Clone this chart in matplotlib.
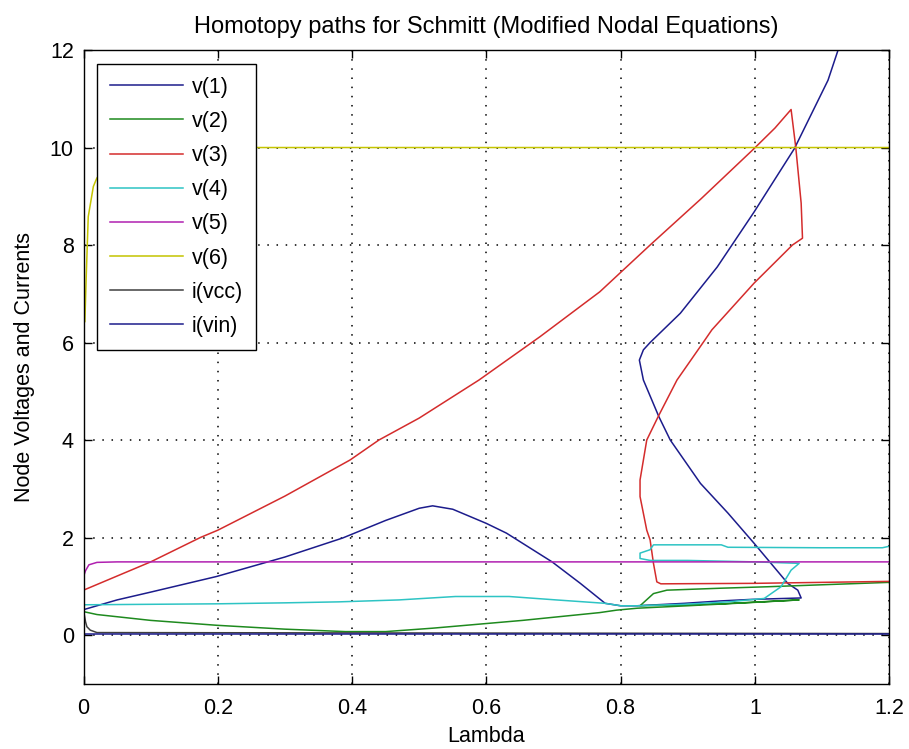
import matplotlib
matplotlib.use("Agg")
import matplotlib.pyplot as plt

plt.rcParams.update({
    "font.family": ["Liberation Sans", "DejaVu Sans"],
    "font.size": 15.5,
})

# homotopy paths (lambda, value); each path folds back
# near lambda ~ 1.07 and turns again near lambda ~ 0.83
v1_lam = [0, 0.05, 0.1, 0.198, 0.3, 0.386, 0.45, 0.5, 0.52, 0.55, 0.6, 0.63,
          0.698, 0.74, 0.777, 0.8, 0.825, 0.895, 0.95, 0.994, 1.069,
          1.064, 1.049, 0.999, 0.96, 0.919, 0.874, 0.857, 0.834, 0.828, 0.834,
          0.844, 0.889, 0.944, 0.999, 1.059, 1.109, 1.124, 1.14]
v1_val = [0.52, 0.72, 0.88, 1.2, 1.6, 1.99, 2.35, 2.6, 2.65, 2.58, 2.29, 2.09,
          1.5, 1.06, 0.65, 0.6, 0.6, 0.65, 0.7, 0.73, 0.76,
          0.92, 1.06, 1.88, 2.5, 3.11, 4.0, 4.48, 5.23, 5.64, 5.85,
          6.0, 6.6, 7.55, 8.68, 9.98, 11.38, 12.0, 12.5]

v2_lam = [0, 0.02, 0.1, 0.198, 0.3, 0.39, 0.45, 0.52, 0.654, 0.769, 0.794,
          0.825, 0.9, 1.0, 1.066, 0.95, 0.829, 0.849, 0.869, 0.949, 1.019,
          1.099, 1.2]
v2_val = [0.48, 0.42, 0.3, 0.2, 0.12, 0.07, 0.07, 0.14, 0.3, 0.46, 0.51,
          0.55, 0.6, 0.67, 0.72, 0.64, 0.6, 0.85, 0.92, 0.96, 0.99,
          1.03, 1.08]

v3_lam = [0, 0.1, 0.174, 0.2, 0.3, 0.397, 0.44, 0.5, 0.589, 0.68, 0.769,
          0.844, 0.92, 0.999, 1.03, 1.054, 1.056, 1.061, 1.069, 1.071,
          1.056, 0.999, 0.936, 0.924, 0.884, 0.856, 0.839, 0.829, 0.829,
          0.839, 0.844, 0.849, 0.854, 0.86, 1.0, 1.1, 1.2]
v3_val = [0.92, 1.5, 2.0, 2.15, 2.85, 3.59, 4.0, 4.45, 5.23, 6.12, 7.04,
          8.0, 8.95, 9.98, 10.4, 10.78, 10.56, 10.0, 8.86, 8.14,
          8.0, 7.22, 6.26, 6.02, 5.23, 4.48, 4.0, 3.18, 2.84,
          2.15, 1.95, 1.47, 1.09, 1.05, 1.06, 1.08, 1.1]

v4_lam = [0, 0.1, 0.2, 0.3, 0.38, 0.47, 0.554, 0.634, 0.704, 0.777, 0.8,
          0.825, 0.895, 0.96, 1.014, 1.039, 1.054, 1.066, 1.0, 0.9, 0.844,
          0.829, 0.829, 0.844, 0.849, 0.95, 0.96, 1.1, 1.19, 1.2]
v4_val = [0.62, 0.63, 0.64, 0.66, 0.68, 0.72, 0.79, 0.79, 0.72, 0.65, 0.6,
          0.6, 0.63, 0.68, 0.75, 0.99, 1.33, 1.47, 1.5, 1.53, 1.53,
          1.57, 1.68, 1.75, 1.85, 1.85, 1.8, 1.79, 1.79, 1.82]

v5_lam = [0, 0.003, 0.008, 0.02, 0.05, 1.2]
v5_val = [1.2, 1.32, 1.44, 1.49, 1.5, 1.5]

v6_lam = [0.002, 0.004, 0.007, 0.0146, 0.0197, 0.04, 0.08, 0.15, 1.2]
v6_val = [6.43, 7.35, 8.58, 9.2, 9.37, 9.75, 9.95, 10.0, 10.0]

ivcc_lam = [0, 0.003, 0.005, 0.01, 0.02, 1.2]
ivcc_val = [0.5, 0.27, 0.17, 0.1, 0.05, 0.03]

ivin_lam = [0, 0.01, 1.2]
ivin_val = [0.02, 0.02, 0.02]

series = [
    ("v(1)", v1_lam, v1_val, "#1c1c8c"),
    ("v(2)", v2_lam, v2_val, "#1e8a1e"),
    ("v(3)", v3_lam, v3_val, "#d42c2c"),
    ("v(4)", v4_lam, v4_val, "#2ec4c4"),
    ("v(5)", v5_lam, v5_val, "#b020b0"),
    ("v(6)", v6_lam, v6_val, "#c4c400"),
    ("i(vcc)", ivcc_lam, ivcc_val, "#404040"),
    ("i(vin)", ivin_lam, ivin_val, "#1c1c8c"),
]

fig = plt.figure(figsize=(9.09, 7.49), dpi=100)
ax = fig.add_axes([0.0919, 0.0871, 0.8862, 0.8461])

for label, lam, val, col in series:
    ax.plot(lam, val, color=col, linewidth=1.1, label=label)

ax.set_xlim(0, 1.2)
ax.set_ylim(-1, 12)
ax.set_xticks([0, 0.2, 0.4, 0.6, 0.8, 1.0, 1.2])
ax.set_xticklabels(["0", "0.2", "0.4", "0.6", "0.8", "1", "1.2"])
ax.set_yticks([0, 2, 4, 6, 8, 10, 12])
ax.tick_params(direction="in", length=6, width=1, top=True, right=True,
               labelsize=15.5)
ax.tick_params(axis="x", pad=10)
ax.tick_params(axis="y", pad=7)
for sp in ax.spines.values():
    sp.set_linewidth(1.0)
ax.grid(True, color="black", linestyle=(0, (1, 5)), linewidth=1.1)
ax.set_axisbelow(True)

ax.set_title("Homotopy paths for Schmitt (Modified Nodal Equations)",
             fontsize=17, pad=12)
ax.set_xlabel("Lambda", fontsize=15.5, labelpad=5)
ax.set_ylabel("Node Voltages and Currents", fontsize=15.5, labelpad=11)

leg = ax.legend(loc="upper left", bbox_to_anchor=(0.0168, 0.978),
                borderaxespad=0, fancybox=False, framealpha=1,
                edgecolor="black", handlelength=3.4, labelspacing=0.61,
                handletextpad=0.4, borderpad=0.6, fontsize=15.5)
leg.get_frame().set_linewidth(1.0)

fig.savefig("out.png", dpi=100)
